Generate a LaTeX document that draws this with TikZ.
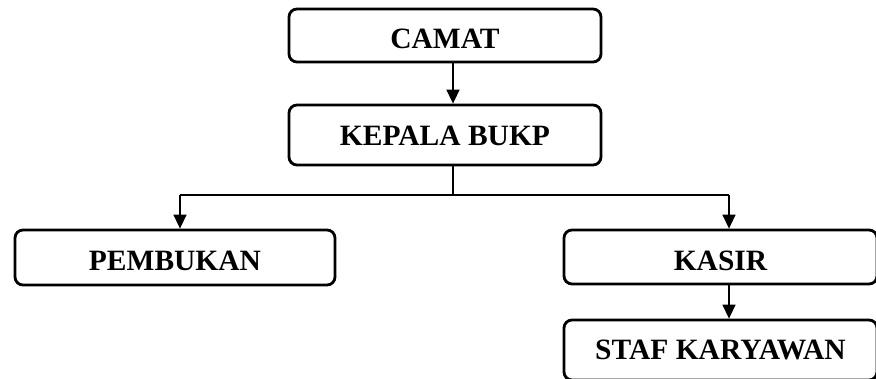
\documentclass[tikz,border=0pt]{standalone}
\usepackage{fontspec}
\setmainfont{Liberation Serif}
\usetikzlibrary{arrows.meta}
\tikzset{
    kotak/.style={draw,line width=2.8pt,rounded corners=8pt,inner sep=0pt,
        text depth=0pt,font=\fontsize{29.5}{34}\selectfont\bfseries},
    panah/.style={line width=1.5pt,-{Triangle[width=13pt,length=14pt]}},
}
\begin{document}
\begin{tikzpicture}[x=1pt,y=1pt]
    \clip (0,0) rectangle (876,-379);
    \node[kotak,minimum width=312pt,minimum height=53pt,text height=27pt] (camat) at (445,-35.5) {CAMAT};
    \node[kotak,minimum width=312pt,minimum height=60pt,text height=22pt] (kepala) at (445,-135) {KEPALA BUKP};
    \node[kotak,minimum width=320pt,minimum height=55pt,text height=27pt] (pembukan) at (175,-257.5) {PEMBUKAN};
    \node[kotak,minimum width=313pt,minimum height=54pt,text height=27pt] (kasir) at (720.5,-257) {KASIR};
    \node[kotak,minimum width=313pt,minimum height=60pt,text height=20pt] (staf) at (720.5,-350) {STAF KARYAWAN};
    \coordinate (tengah) at (453,-195);
    \coordinate (kiri) at (180,-195);
    \coordinate (kanan) at (729,-195);
    \draw[panah] (camat.south -| tengah) -- (kepala.north -| tengah);
    \draw[line width=1.5pt] (kepala.south -| tengah) -- (tengah) (kiri) -- (kanan);
    \draw[panah] (kiri) -- (kiri |- pembukan.north);
    \draw[panah] (kanan) -- (kanan |- kasir.north);
    \draw[panah] (kanan |- kasir.south) -- (kanan |- staf.north);
\end{tikzpicture}
\end{document}
